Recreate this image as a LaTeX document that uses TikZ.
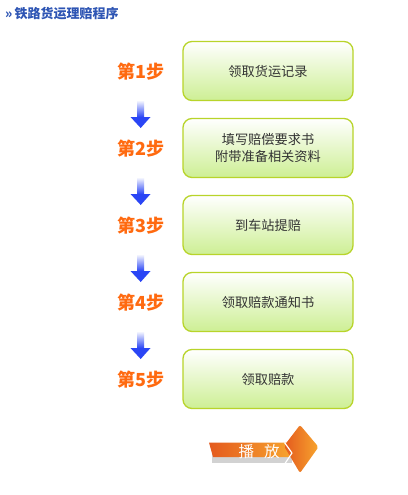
\documentclass[tikz,border=0pt]{standalone}
\usepackage{fontspec}
\setmainfont{Noto Sans CJK SC}
\begin{document}
\begin{tikzpicture}[x=1pt,y=-1pt,
  stepbox/.style={draw=boxborder,line width=1.3pt,rounded corners=9pt,
    minimum width=170pt,minimum height=59pt,top color=white,bottom color=boxfill,
    text=textgray,font=\fontsize{13.2}{17}\selectfont,align=center,inner sep=0pt},
  steplabel/.style={text=steporange,font=\fontsize{18}{20}\selectfont\bfseries,inner sep=0pt}]
\definecolor{boxborder}{HTML}{B8D42A}
\definecolor{boxfill}{HTML}{CDEF94}
\definecolor{textgray}{HTML}{333333}
\definecolor{steporange}{HTML}{FF6A10}
\definecolor{titleblue}{HTML}{2E55B4}
\definecolor{arrowblue}{HTML}{2A45F5}
\definecolor{playorange}{HTML}{E45A1E}
\definecolor{playlight}{HTML}{F7A52E}
\useasboundingbox (0,0) rectangle (407,495);
\fill[white] (0,0) rectangle (407,495);
\node[anchor=west,text=titleblue,font=\fontsize{13}{15}\selectfont\bfseries,inner sep=0pt] (title) at (5,14) {»\,铁路货运理赔程序};
\foreach \i/\y/\t in {1/71/领取货运记录,2/148/填写赔偿要求书\\附带准备相关资料,3/225/到车站提赔,4/302/领取赔款通知书,5/379/领取赔款}{
  \node[stepbox] (b\i) at (268,\y) {\t};
  \node[steplabel] (s\i) at (141,\y+1) {第\i 步};
}
\foreach \y in {100,177,254,331}{
  \shade[top color=white,bottom color=arrowblue] (137.5,\y) rectangle (144,\y+17);
  \fill[arrowblue] (130.5,\y+17) -- (150.5,\y+17) -- (140.7,\y+28) -- cycle;
}
% play button
\fill[gray!35] (212,454) -- (292,454) -- (292,463) -- (212,463) -- cycle;
\shade[left color=playorange,right color=playlight] (209,442.5) -- (292,442.5) -- (292,457) -- (213,457) -- cycle;
\shade[left color=playorange,right color=playlight,rounded corners=2pt] (284,446) -- (300,425) -- (318.5,447) -- (300,473) -- cycle;
\draw[white,line width=1.2pt,line join=round] (284.5,442.5) -- (292,453) -- (285,463.5);
\node[text=white,font=\fontsize{15.5}{17}\selectfont,inner sep=0pt] (play) at (259,452) {播\hspace{10pt}放};
\end{tikzpicture}
\end{document}
